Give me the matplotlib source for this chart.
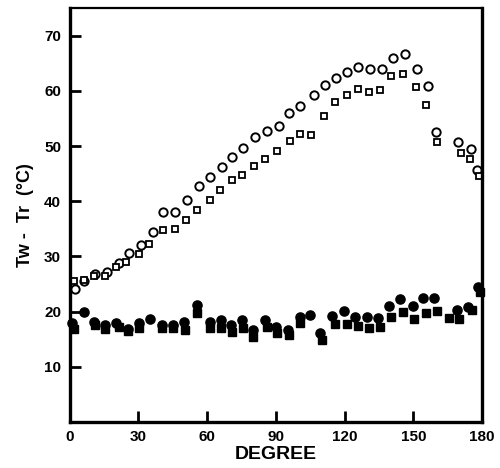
import matplotlib
matplotlib.use("Agg")
import matplotlib.pyplot as plt

plt.rcParams["font.family"] = ["Liberation Sans", "DejaVu Sans"]

# open circles
oc_deg = [2.6, 6.2, 11.0, 16.4, 21.5, 25.9, 31.0, 36.5, 41.0, 46.2, 51.3, 56.4,
          61.5, 66.6, 70.9, 75.7, 81.1, 86.2, 91.3, 95.8, 100.7, 106.8, 111.6, 116.4,
          121.1, 126.1, 131.2, 136.3, 141.1, 146.5, 151.6, 156.4, 160.0, 169.7, 175.1, 178.0]
oc_val = [24.1, 25.5, 26.9, 27.1, 28.8, 30.6, 32.1, 34.4, 38.1, 38.1, 40.2, 42.7,
          44.4, 46.2, 48.1, 49.7, 51.6, 52.7, 53.7, 55.9, 57.2, 59.3, 61.0, 62.3,
          63.4, 64.3, 64.0, 64.0, 66.0, 66.6, 64.0, 60.9, 52.5, 50.7, 49.4, 45.6]

# open squares
os_deg = [1.9, 6.2, 10.6, 15.7, 20.5, 24.8, 30.2, 34.6, 40.8, 46.2, 50.9, 55.7,
          61.5, 65.8, 70.9, 75.3, 80.3, 85.4, 90.4, 96.0, 100.7, 105.5, 111.2, 116.0,
          121.1, 125.7, 130.9, 135.6, 140.4, 145.5, 151.3, 155.6, 160.5, 170.7, 174.8, 178.9]
os_val = [25.5, 25.8, 26.4, 26.4, 28.1, 29.0, 30.4, 32.3, 34.8, 34.9, 36.6, 38.4,
          40.2, 42.0, 43.8, 44.8, 46.3, 47.6, 49.1, 50.9, 52.1, 52.0, 55.4, 58.0,
          59.2, 60.4, 59.8, 60.1, 62.6, 63.0, 60.7, 57.5, 50.7, 48.8, 47.7, 44.5]

# filled circles
fc_deg = [1.2, 6.2, 10.6, 15.4, 20.5, 25.6, 30.2, 35.3, 40.4, 45.0, 50.1, 55.7,
          61.5, 66.1, 70.5, 75.3, 80.1, 85.4, 90.2, 95.2, 100.4, 105.1, 109.4, 114.5,
          119.6, 124.7, 129.8, 134.4, 139.2, 144.3, 149.8, 154.4, 159.1, 169.3, 174.1, 178.4]
fc_val = [18.0, 20.0, 18.2, 17.6, 18.0, 16.9, 18.0, 18.6, 17.6, 17.6, 18.2, 21.2,
          18.2, 18.5, 17.6, 18.5, 16.7, 18.5, 17.3, 16.7, 19.0, 19.4, 16.1, 19.2,
          20.2, 19.0, 19.0, 18.8, 21.1, 22.3, 21.1, 22.4, 22.4, 20.3, 20.9, 24.4]

# filled squares
fs_deg = [1.9, 11.0, 15.7, 21.5, 25.6, 30.5, 40.4, 45.0, 50.6, 55.7, 61.1, 66.1,
          71.0, 75.7, 80.1, 86.1, 90.5, 95.6, 100.4, 110.2, 116.0, 121.1, 125.7, 130.5,
          135.3, 140.4, 145.7, 150.4, 155.6, 160.5, 165.8, 170.1, 175.5, 179.2]
fs_val = [16.9, 17.6, 16.9, 17.3, 16.5, 17.0, 17.0, 17.0, 16.7, 19.7, 17.0, 17.0,
          16.4, 17.0, 15.5, 17.3, 16.1, 15.8, 18.0, 14.9, 17.8, 17.8, 17.4, 17.0,
          17.3, 19.0, 20.0, 18.6, 19.8, 20.2, 18.8, 18.6, 20.3, 23.6]

xticks = [0, 30, 60, 90, 120, 150, 180]
yticks = [10, 20, 30, 40, 50, 60, 70]

fig = plt.figure(figsize=(5.0, 4.68), dpi=100)
ax = fig.add_axes([0.139, 0.098, 0.825, 0.885])

ax.plot(oc_deg, oc_val, "o", ms=6, mfc="white", mec="black", mew=1.4, ls="none", clip_on=False)
ax.plot(os_deg, os_val, "s", ms=4.6, mfc="white", mec="black", mew=1.3, ls="none", clip_on=False)
ax.plot(fs_deg, fs_val, "s", ms=5.2, color="black", ls="none", clip_on=False)
ax.plot(fc_deg, fc_val, "o", ms=6.6, color="black", ls="none", clip_on=False)

ax.set_xlim(0, 180)
ax.set_ylim(0, 75)
ax.set_xticks(xticks)
ax.set_yticks(yticks)
ax.tick_params(direction="in", length=8, width=2, labelsize=11, pad=6)
for lab in ax.get_xticklabels() + ax.get_yticklabels():
    lab.set_fontweight("bold")

for side in ["left", "bottom", "right"]:
    ax.spines[side].set_linewidth(2.4)
ax.spines["top"].set_linewidth(1.6)

ax.set_xlabel("DEGREE", fontsize=14, fontweight="bold", labelpad=1)
ax.set_ylabel("Tw -  Tr  (°C)", fontsize=13, fontweight="bold", labelpad=7)

fig.savefig("out.png", dpi=100)
